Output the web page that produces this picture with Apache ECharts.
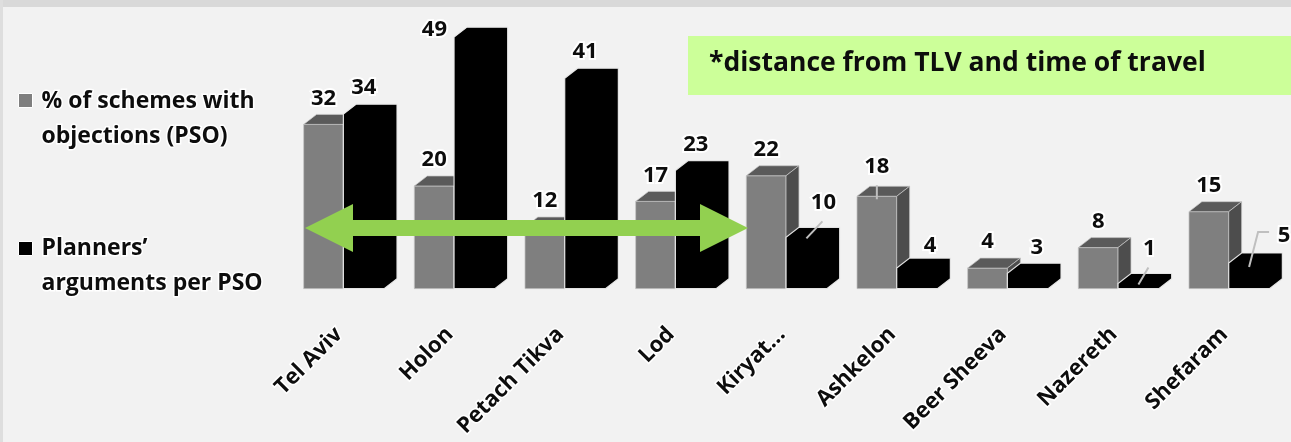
<!DOCTYPE html>
<html>
<head>
<meta charset="utf-8">
<script src="https://cdn.jsdelivr.net/npm/echarts@6/dist/echarts.min.js"></script>
<style>
html,body{margin:0;padding:0;background:#f2f2f2;}
#chart{width:1291px;height:442px;}
</style>
</head>
<body>
<div id="chart"></div>
<script>
// ---- data ----
const categories = ['Tel Aviv', 'Holon', 'Petach Tikva', 'Lod', 'Kiryat...', 'Ashkelon', 'Beer Sheeva', 'Nazereth', 'Shefaram'];
const psoShare = [32, 20, 12, 17, 22, 18, 4, 8, 15];
const argsPerPso = [34, 49, 41, 23, 10, 4, 3, 1, 5];
const seriesNames = ['% of schemes with\nobjections (PSO)', 'Planners\u2019\narguments per PSO'];
const noteText = '*distance from TLV and time of travel';

// label nudges (index -> offset / leader style)
const labelNudge = {
  gray: { 5: { dx: 0, dy: -4, leader: 'vert' } },
  black: {
    1: { dx: -40, dy: 19 },
    4: { dx: 17, dy: -9, leader: 'diag' },
    5: { dx: 13, dy: 4 },
    6: { dx: 9, dy: 0 },
    7: { dx: 11, dy: -9, leader: 'diag' },
    8: { dx: 35, dy: -1, leader: 'elbow' }
  }
};

const FONT = '"Open Sans", "DejaVu Sans", sans-serif';

function makeRender(kind) {
  return function (params, api) {
    const i = api.value(0), v = api.value(1);
    const pt = api.coord([i, v]);
    const base = api.coord([i, 0])[1];
    const bw = api.size([1, 0])[0];
    const k = bw / 111.4;
    const dx = 13 * k, dy = 10;
    const cx = pt[0], top = pt[1];
    const isGray = kind === 'gray';
    const x0 = isGray ? cx - 47 * k : cx - 7 * k;
    const w = (isGray ? 40 : 41) * k;
    const children = [];
    if (isGray) {
      const edge = 'rgba(200,200,200,0.7)';
      children.push({ type: 'rect', shape: { x: x0, y: top, width: w, height: base - top },
        style: { fill: '#7f7f7f', stroke: edge, lineWidth: 1 } });
      children.push({ type: 'polygon', shape: { points: [[x0, top], [x0 + dx, top - dy], [x0 + w + dx, top - dy], [x0 + w, top]] },
        style: { fill: '#5a5a5a', stroke: edge, lineWidth: 1 } });
      children.push({ type: 'polygon', shape: { points: [[x0 + w, top], [x0 + w + dx, top - dy], [x0 + w + dx, base - dy], [x0 + w, base]] },
        style: { fill: '#4d4d4d', stroke: edge, lineWidth: 1 } });
    } else {
      children.push({ type: 'polygon', shape: { points: [[x0, base], [x0, top], [x0 + dx, top - dy], [x0 + w + dx, top - dy], [x0 + w + dx, base - dy], [x0 + w, base]] },
        style: { fill: '#000', stroke: 'rgba(235,235,235,0.95)', lineWidth: 1.2 } });
    }
    // value label
    const nudge = (labelNudge[kind] || {})[i] || { dx: 0, dy: 0 };
    const fx = x0 + w / 2;
    const lx = fx + nudge.dx;
    const ly = top - dy - 16 + nudge.dy;
    const leaderStyle = { stroke: '#bfbfbf', lineWidth: 2, fill: null };
    if (nudge.leader === 'diag') {
      children.push({ type: 'polyline', shape: { points: [[fx, top + 1], [lx - 1, ly + 19]] }, style: leaderStyle });
    } else if (nudge.leader === 'vert') {
      children.push({ type: 'polyline', shape: { points: [[lx, ly + 19], [lx, top + 3]] }, style: leaderStyle });
    } else if (nudge.leader === 'elbow') {
      children.push({ type: 'polyline', shape: { points: [[fx, top + 4], [lx - 26, ly - 4], [lx - 15, ly - 4]] }, style: leaderStyle });
    }
    children.push({ type: 'text', z2: 10, style: {
      text: String(v), x: lx, y: ly, align: 'center', verticalAlign: 'middle',
      fontFamily: FONT, fontWeight: 'bold', fontSize: 22, fill: '#0d0d0d',
      stroke: '#ffffff', lineWidth: 4
    } });
    return { type: 'group', children: children };
  };
}

const chart = echarts.init(document.getElementById('chart'), null, { renderer: 'canvas' });

const arrowPts = [[305, 228], [353, 204], [353, 220], [700, 220], [700, 204], [748, 228], [700, 252], [700, 236], [353, 236], [353, 252]];

const legendText = (t, x, y) => ({
  type: 'text', left: x, top: y, z: 50,
  style: { text: t, fontFamily: FONT, fontWeight: 'bold', fontSize: 23, lineHeight: 35,
    fill: '#0d0d0d', stroke: '#ffffff', lineWidth: 3 }
});

chart.setOption({
  backgroundColor: '#f2f2f2',
  animation: false,
  grid: { left: 295, width: 1003, top: 32, bottom: 152, containLabel: false },
  xAxis: {
    type: 'category', data: categories,
    axisLine: { show: false }, axisTick: { show: false }, splitLine: { show: false },
    axisLabel: { rotate: 45, margin: 31, interval: 0, fontFamily: FONT, fontWeight: 'bold', fontSize: 22,
      padding: [0, 16, 0, 0],
      color: '#0d0d0d', textBorderColor: '#ffffff', textBorderWidth: 3 }
  },
  yAxis: { type: 'value', min: 0, max: 50, show: false },
  series: [
    { name: seriesNames[0], type: 'custom', renderItem: makeRender('gray'), clip: false,
      data: psoShare.map((v, i) => [i, v]), encode: { x: 0, y: 1 }, z: 2 },
    { name: seriesNames[1], type: 'custom', renderItem: makeRender('black'), clip: false,
      data: argsPerPso.map((v, i) => [i, v]), encode: { x: 0, y: 1 }, z: 3 }
  ],
  graphic: { elements: [
    { type: 'rect', left: 0, top: 0, z: 0, shape: { width: 1291, height: 7 }, style: { fill: '#d9d9d9' } },
    { type: 'rect', left: 0, top: 0, z: 0, shape: { width: 3, height: 442 }, style: { fill: '#dedede' } },
    // note box
    { type: 'rect', left: 688, top: 36, z: 5, shape: { width: 620, height: 59 }, style: { fill: '#ccff99' } },
    { type: 'text', left: 709, top: 50, z: 6, style: { text: noteText, fontFamily: FONT, fontWeight: 'bold', fontSize: 26.5, fill: '#0d0d0d' } },
    // arrow
    { type: 'polygon', z: 100, shape: { points: arrowPts }, style: { fill: '#92d050' } },
    // legend
    { type: 'rect', left: 18, top: 93, z: 50, shape: { width: 14, height: 14 }, style: { fill: '#7f7f7f', stroke: '#ffffff', lineWidth: 1 } },
    legendText(seriesNames[0], 40, 84),
    { type: 'rect', left: 18, top: 241, z: 50, shape: { width: 14, height: 14 }, style: { fill: '#000000', stroke: '#ffffff', lineWidth: 1 } },
    legendText(seriesNames[1], 40, 231)
  ] }
});
</script>
</body>
</html>
